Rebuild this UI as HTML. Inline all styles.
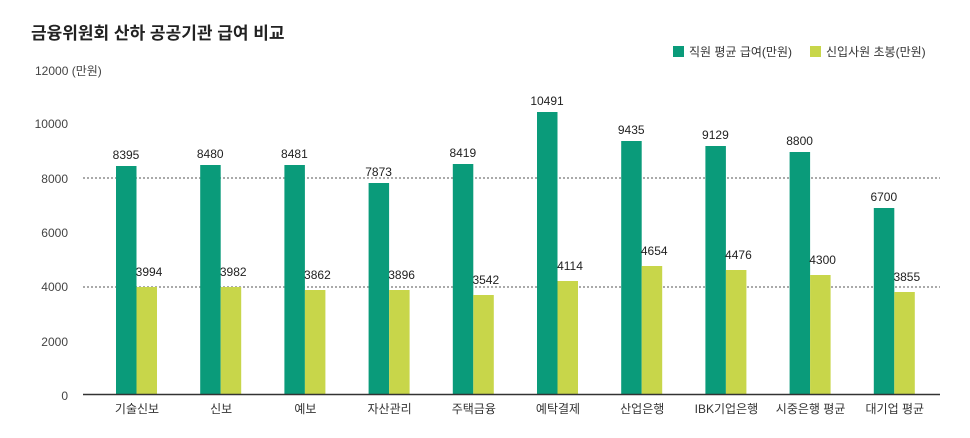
<!DOCTYPE html>
<html><head><meta charset="utf-8"><style>
body{margin:0;background:#fff;}
svg{display:block;font-family:"Liberation Sans","Noto Sans CJK KR",sans-serif;}
</style></head><body>
<svg width="970" height="438" viewBox="0 0 970 438">
<text x="31" y="39" font-size="17" font-weight="bold" fill="#222">금융위원회 산하 공공기관 급여 비교</text>
<text x="35" y="75" font-size="12" fill="#444">12000 (만원)</text>
<g font-size="12" fill="#444" text-anchor="end">
<text x="68" y="128">10000</text>
<text x="68" y="183">8000</text>
<text x="68" y="291">4000</text>
<text x="68" y="237">6000</text>
<text x="68" y="346">2000</text>
<text x="68" y="400">0</text>
</g>
<line x1="83" y1="178" x2="940" y2="178" stroke="#555" stroke-dasharray="2,2" stroke-width="1"/>
<line x1="83" y1="287" x2="940" y2="287" stroke="#555" stroke-dasharray="2,2" stroke-width="1"/>
<rect x="673" y="46" width="11" height="11" fill="#0a9b7a"/>
<text x="689" y="56" font-size="12" fill="#333">직원 평균 급여(만원)</text>
<rect x="810" y="46" width="11" height="11" fill="#c8d64a"/>
<text x="826" y="56" font-size="12" fill="#333">신입사원 초봉(만원)</text>

<g fill="#0a9b7a">
<rect x="116" y="166" width="20.5" height="228"/>
<rect x="200.2" y="165" width="20.5" height="229"/>
<rect x="284.4" y="165" width="20.5" height="229"/>
<rect x="368.6" y="183" width="20.5" height="211"/>
<rect x="452.8" y="164" width="20.5" height="230"/>
<rect x="537" y="112" width="20.5" height="282"/>
<rect x="621.2" y="141" width="20.5" height="253"/>
<rect x="705.4" y="146" width="20.5" height="248"/>
<rect x="789.6" y="152" width="20.5" height="242"/>
<rect x="873.8" y="208" width="20.5" height="186"/>
</g>
<g fill="#c8d64a">
<rect x="136.5" y="287" width="20.5" height="107"/>
<rect x="220.7" y="287" width="20.5" height="107"/>
<rect x="304.9" y="290" width="20.5" height="104"/>
<rect x="389.1" y="290" width="20.5" height="104"/>
<rect x="473.3" y="295" width="20.5" height="99"/>
<rect x="557.5" y="281" width="20.5" height="113"/>
<rect x="641.7" y="266" width="20.5" height="128"/>
<rect x="725.9" y="270" width="20.5" height="124"/>
<rect x="810.1" y="275" width="20.5" height="119"/>
<rect x="894.3" y="292" width="20.5" height="102"/>
</g>
<g font-size="12" fill="#222" text-anchor="middle">
<text x="126" y="159">8395</text>
<text x="210.2" y="158">8480</text>
<text x="294.4" y="158">8481</text>
<text x="378.6" y="176">7873</text>
<text x="462.8" y="157">8419</text>
<text x="547" y="105">10491</text>
<text x="631.2" y="134">9435</text>
<text x="715.4" y="139">9129</text>
<text x="799.6" y="145">8800</text>
<text x="883.8" y="201">6700</text>
<text x="149" y="276">3994</text>
<text x="233.2" y="276">3982</text>
<text x="317.4" y="279">3862</text>
<text x="401.6" y="279">3896</text>
<text x="485.8" y="284">3542</text>
<text x="570" y="270">4114</text>
<text x="654.2" y="255">4654</text>
<text x="738.4" y="259">4476</text>
<text x="822.6" y="264">4300</text>
<text x="906.8" y="281">3855</text>
</g>
<g font-size="12" fill="#333" text-anchor="middle">
<text x="137" y="413">기술신보</text>
<text x="221.2" y="413">신보</text>
<text x="305.4" y="413">예보</text>
<text x="389.6" y="413">자산관리</text>
<text x="473.8" y="413">주택금융</text>
<text x="558" y="413">예탁결제</text>
<text x="642.2" y="413">산업은행</text>
<text x="726.4" y="413">IBK기업은행</text>
<text x="810.6" y="413">시중은행 평균</text>
<text x="894.8" y="413">대기업 평균</text>
</g>
<line x1="83" y1="394.5" x2="940" y2="394.5" stroke="#333" stroke-width="1.5"/>
</svg>
</body></html>
